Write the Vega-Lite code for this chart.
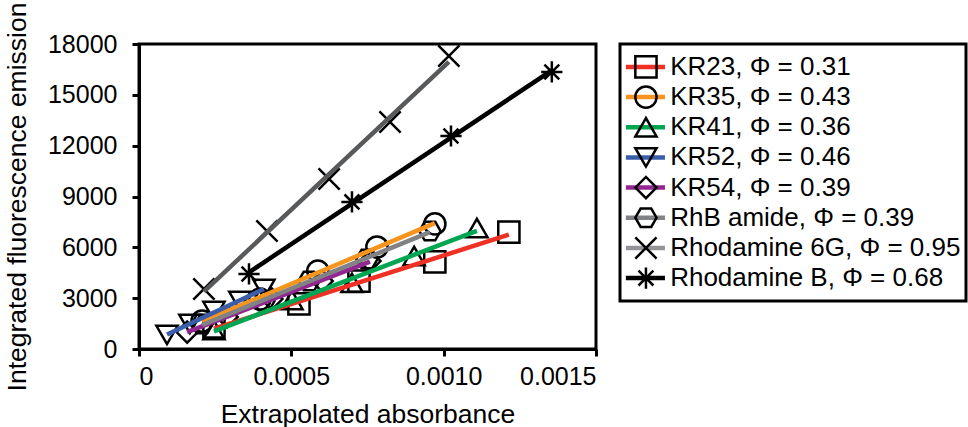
{
  "$schema": "https://vega.github.io/schema/vega-lite/v6.json",
  "padding": {"left": 2, "top": 0, "right": 0, "bottom": 0},
  "background": "white",
  "config": {
    "font": "Liberation Sans",
    "view": {"stroke": "black", "strokeWidth": 3},
    "axis": {
      "grid": false,
      "domainColor": "black",
      "domainWidth": 3,
      "tickColor": "black",
      "tickWidth": 3,
      "tickSize": 7,
      "labelFont": "Liberation Sans",
      "labelFontSize": 25,
      "labelColor": "black",
      "titleFont": "Liberation Sans",
      "titleFontSize": 26.5,
      "titleFontWeight": "normal",
      "titleColor": "black"
    }
  },
  "datasets": {
    "pts": [
      {"name": "KR23", "x": 0.000246, "y": 1300},
      {"name": "KR23", "x": 0.000525, "y": 2660},
      {"name": "KR23", "x": 0.000722, "y": 4010},
      {"name": "KR23", "x": 0.000971, "y": 5140},
      {"name": "KR23", "x": 0.001214, "y": 6900},
      {"name": "KR35", "x": 0.000207, "y": 1650},
      {"name": "KR35", "x": 0.000397, "y": 2950},
      {"name": "KR35", "x": 0.000587, "y": 4600},
      {"name": "KR35", "x": 0.000781, "y": 6020},
      {"name": "KR35", "x": 0.000971, "y": 7380},
      {"name": "KR41", "x": 0.000246, "y": 1120},
      {"name": "KR41", "x": 0.000502, "y": 2890},
      {"name": "KR41", "x": 0.000699, "y": 3900},
      {"name": "KR41", "x": 0.000903, "y": 5490},
      {"name": "KR41", "x": 0.001109, "y": 7140},
      {"name": "KR52", "x": 0.000092, "y": 830},
      {"name": "KR52", "x": 0.000167, "y": 1480},
      {"name": "KR52", "x": 0.000246, "y": 2240},
      {"name": "KR52", "x": 0.000331, "y": 2830},
      {"name": "KR52", "x": 0.000410, "y": 3540},
      {"name": "KR54", "x": 0.000158, "y": 1000},
      {"name": "KR54", "x": 0.000289, "y": 1890},
      {"name": "KR54", "x": 0.000436, "y": 2950},
      {"name": "KR54", "x": 0.000601, "y": 4010},
      {"name": "KR54", "x": 0.000758, "y": 5190},
      {"name": "RhB amide", "x": 0.000207, "y": 1480},
      {"name": "RhB amide", "x": 0.000410, "y": 2830},
      {"name": "RhB amide", "x": 0.000558, "y": 4010},
      {"name": "RhB amide", "x": 0.000748, "y": 5310},
      {"name": "RhB amide", "x": 0.000955, "y": 6960},
      {"name": "Rhodamine 6G", "x": 0.000213, "y": 3540},
      {"name": "Rhodamine 6G", "x": 0.000420, "y": 6960},
      {"name": "Rhodamine 6G", "x": 0.000624, "y": 10030},
      {"name": "Rhodamine 6G", "x": 0.000824, "y": 13400},
      {"name": "Rhodamine 6G", "x": 0.001017, "y": 17290},
      {"name": "Rhodamine B", "x": 0.000361, "y": 4430},
      {"name": "Rhodamine B", "x": 0.000699, "y": 8680},
      {"name": "Rhodamine B", "x": 0.001024, "y": 12570},
      {"name": "Rhodamine B", "x": 0.001355, "y": 16350}
    ],
    "leg": [
      {"order": 1, "name": "KR23", "label": "KR23, Φ = 0.31"},
      {"order": 2, "name": "KR35", "label": "KR35, Φ = 0.43"},
      {"order": 3, "name": "KR41", "label": "KR41, Φ = 0.36"},
      {"order": 4, "name": "KR52", "label": "KR52, Φ = 0.46"},
      {"order": 5, "name": "KR54", "label": "KR54, Φ = 0.39"},
      {"order": 6, "name": "RhB amide", "label": "RhB amide, Φ = 0.39"},
      {"order": 7, "name": "Rhodamine 6G", "label": "Rhodamine 6G, Φ = 0.95"},
      {"order": 8, "name": "Rhodamine B", "label": "Rhodamine B, Φ = 0.68"}
    ]
  },
  "resolve": {"scale": {"x": "independent", "y": "independent", "color": "independent", "shape": "independent"}},
  "spacing": 19,
  "hconcat": [
    {
      "width": 457,
      "height": 305,
      "layer": [
        {
          "data": {"name": "pts"},
          "mark": {"type": "point", "filled": false, "stroke": "black", "strokeWidth": 2.5, "size": 450, "opacity": 1},
          "encoding": {
            "x": {"field": "x", "type": "quantitative", "scale": {"domain": [0, 0.0015], "nice": false}, "axis": {"values": [0, 0.0005, 0.001, 0.0015], "labelExpr": "datum.value == 0 ? '0' : format(datum.value, '.4f')", "title": "Extrapolated absorbance", "labelPadding": 8, "titlePadding": 12}},
            "y": {"field": "y", "type": "quantitative", "scale": {"domain": [0, 18000], "nice": false}, "axis": {"values": [0, 3000, 6000, 9000, 12000, 15000, 18000], "format": "d", "title": "Integrated fluorescence emission", "labelPadding": 15, "titlePadding": 16}},
            "shape": {
              "field": "name",
              "type": "nominal",
              "legend": null,
              "scale": {
                "domain": ["KR23", "KR35", "KR41", "KR52", "KR54", "RhB amide", "Rhodamine 6G", "Rhodamine B"],
                "range": ["square", "circle", "triangle-up", "triangle-down", "diamond", "M-1,0L-0.5,-0.87L0.5,-0.87L1,0L0.5,0.87L-0.5,0.87Z", "M-1,-1L1,1M1,-1L-1,1", "M0,-1L0,1M-1,0L1,0M-0.7,-0.7L0.7,0.7M-0.7,0.7L0.7,-0.7"]
              }
            }
          }
        },
        {
          "data": {"name": "pts"},
          "transform": [{"regression": "y", "on": "x", "groupby": ["name"]}],
          "mark": {"type": "line", "strokeWidth": 4.5},
          "encoding": {
            "x": {"field": "x", "type": "quantitative"},
            "y": {"field": "y", "type": "quantitative"},
            "color": {
              "field": "name",
              "type": "nominal",
              "legend": null,
              "scale": {
                "domain": ["KR23", "KR35", "KR41", "KR52", "KR54", "RhB amide", "Rhodamine 6G", "Rhodamine B"],
                "range": ["#ee3124", "#f7941d", "#00a651", "#3b5eab", "#92278f", "#808285", "#58595b", "#000000"]
              }
            }
          }
        }
      ]
    },
    {
      "width": 346,
      "height": 257,
      "data": {"name": "leg"},
      "encoding": {
        "y": {"field": "order", "type": "ordinal", "scale": {"type": "point", "padding": 0.76}, "axis": null}
      },
      "layer": [
        {
          "mark": {"type": "rule", "strokeWidth": 4.5},
          "encoding": {
            "x": {"datum": 1.7, "type": "quantitative", "scale": {"domain": [0, 100], "nice": false, "zero": false}, "axis": null},
            "x2": {"datum": 13},
            "color": {
              "field": "name",
              "type": "nominal",
              "legend": null,
              "scale": {
                "domain": ["KR23", "KR35", "KR41", "KR52", "KR54", "RhB amide", "Rhodamine 6G", "Rhodamine B"],
                "range": ["#ee3124", "#f7941d", "#00a651", "#3b5eab", "#92278f", "#808285", "#939598", "#000000"]
              }
            }
          }
        },
        {
          "mark": {"type": "point", "filled": false, "stroke": "black", "strokeWidth": 2.5, "size": 450, "opacity": 1},
          "encoding": {
            "x": {"datum": 7.5, "type": "quantitative"},
            "shape": {
              "field": "name",
              "type": "nominal",
              "legend": null,
              "scale": {
                "domain": ["KR23", "KR35", "KR41", "KR52", "KR54", "RhB amide", "Rhodamine 6G", "Rhodamine B"],
                "range": ["square", "circle", "triangle-up", "triangle-down", "diamond", "M-1,0L-0.5,-0.87L0.5,-0.87L1,0L0.5,0.87L-0.5,0.87Z", "M-1,-1L1,1M1,-1L-1,1", "M0,-1L0,1M-1,0L1,0M-0.7,-0.7L0.7,0.7M-0.7,0.7L0.7,-0.7"]
              }
            }
          }
        },
        {
          "mark": {"type": "text", "align": "left", "baseline": "middle", "fontSize": 26, "font": "Liberation Sans", "color": "black"},
          "encoding": {
            "x": {"datum": 14.5, "type": "quantitative"},
            "text": {"field": "label"}
          }
        }
      ]
    }
  ]
}
